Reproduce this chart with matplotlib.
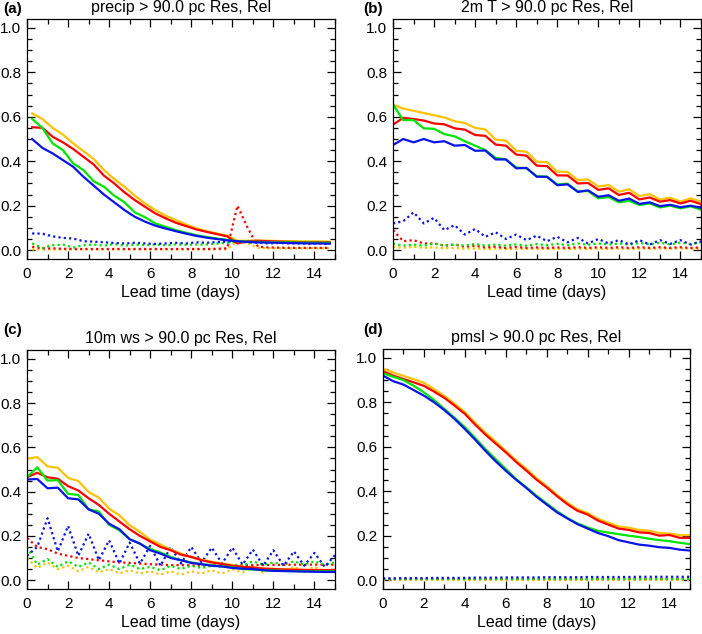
import numpy as np
import matplotlib
matplotlib.use('Agg')
import matplotlib.pyplot as plt
from matplotlib.ticker import MultipleLocator

plt.rcParams['font.family'] = ['Liberation Sans', 'DejaVu Sans']

# lead times (days)
x_precip = np.arange(0.25, 15.0, 0.5)
x_lead = np.arange(0.0, 15.01, 0.5)

# colours for the four models
c_yel = '#ffc200'
c_red = '#ff0000'
c_grn = '#00e400'
c_blu = '#0a14e8'

# (a) precip: resolution (solid) and reliability (dotted)
a_yel = [0.615, 0.59, 0.55, 0.52, 0.48, 0.445, 0.41, 0.36, 0.32, 0.285, 0.245, 0.21, 0.18, 0.155, 0.135,
         0.115, 0.098, 0.085, 0.075, 0.065, 0.042, 0.042, 0.043, 0.042, 0.041, 0.04, 0.04, 0.039, 0.039, 0.038]
a_red = [0.553, 0.55, 0.51, 0.485, 0.455, 0.42, 0.385, 0.335, 0.3, 0.26, 0.225, 0.195, 0.165, 0.143, 0.123,
         0.108, 0.093, 0.082, 0.072, 0.062, 0.03, 0.04, 0.042, 0.04, 0.038, 0.037, 0.036, 0.036, 0.035, 0.035]
a_grn = [0.59, 0.55, 0.48, 0.45, 0.39, 0.36, 0.31, 0.285, 0.245, 0.215, 0.17, 0.148, 0.12, 0.105, 0.09,
         0.078, 0.067, 0.059, 0.052, 0.046, 0.04, 0.038, 0.037, 0.036, 0.035, 0.035, 0.034, 0.034, 0.033, 0.033]
a_blu = [0.50, 0.46, 0.435, 0.405, 0.375, 0.33, 0.29, 0.25, 0.215, 0.18, 0.15, 0.128, 0.11, 0.097, 0.085,
         0.074, 0.064, 0.056, 0.05, 0.044, 0.04, 0.037, 0.035, 0.034, 0.033, 0.032, 0.031, 0.03, 0.03, 0.029]
a_yel_rel = [0.003, 0.003, 0.003, 0.003, 0.003, 0.003, 0.003, 0.003, 0.003, 0.003, 0.003, 0.003, 0.003, 0.003, 0.003,
             0.003, 0.003, 0.003, 0.004, 0.004, 0.04, 0.03, 0.01, 0.008, 0.008, 0.008, 0.008, 0.008, 0.008, 0.008]
a_red_rel = [0.015, 0.008, 0.008, 0.006, 0.005, 0.005, 0.005, 0.005, 0.005, 0.005, 0.005, 0.005, 0.005, 0.005, 0.005,
             0.005, 0.005, 0.005, 0.006, 0.008, 0.2, 0.1, 0.015, 0.012, 0.011, 0.01, 0.01, 0.01, 0.01, 0.01]
a_grn_rel = [0.03, 0.01, 0.022, 0.025, 0.012, 0.022, 0.025, 0.02, 0.027, 0.02, 0.025, 0.022, 0.025, 0.022, 0.026,
             0.024, 0.025, 0.025, 0.03, 0.032, 0.04, 0.036, 0.035, 0.036, 0.036, 0.035, 0.035, 0.034, 0.034, 0.033]
a_blu_rel = [0.075, 0.074, 0.062, 0.055, 0.052, 0.04, 0.038, 0.035, 0.032, 0.03, 0.033, 0.03, 0.028, 0.03, 0.033,
             0.03, 0.035, 0.033, 0.036, 0.038, 0.04, 0.035, 0.033, 0.03, 0.032, 0.03, 0.03, 0.029, 0.03, 0.028]

# (b) 2m T
b_yel = [0.655, 0.637, 0.627, 0.617, 0.607, 0.597, 0.58, 0.572, 0.55, 0.543, 0.497, 0.493, 0.447, 0.443, 0.398, 0.396,
         0.353, 0.352, 0.315, 0.318, 0.286, 0.293, 0.263, 0.274, 0.243, 0.252, 0.228, 0.236, 0.218, 0.233, 0.218]
b_red = [0.565, 0.595, 0.59, 0.583, 0.57, 0.566, 0.548, 0.542, 0.518, 0.514, 0.475, 0.47, 0.43, 0.425, 0.38, 0.378,
         0.336, 0.336, 0.3, 0.302, 0.271, 0.278, 0.248, 0.258, 0.228, 0.237, 0.218, 0.225, 0.21, 0.222, 0.207]
b_grn = [0.655, 0.585, 0.585, 0.548, 0.546, 0.522, 0.512, 0.49, 0.47, 0.45, 0.415, 0.408, 0.372, 0.368, 0.333, 0.33,
         0.296, 0.299, 0.264, 0.266, 0.233, 0.239, 0.215, 0.222, 0.203, 0.21, 0.192, 0.2, 0.188, 0.197, 0.182]
b_blu = [0.473, 0.5, 0.485, 0.5, 0.485, 0.49, 0.47, 0.473, 0.447, 0.448, 0.408, 0.408, 0.368, 0.37, 0.33, 0.33,
         0.292, 0.296, 0.262, 0.269, 0.24, 0.247, 0.222, 0.232, 0.208, 0.215, 0.198, 0.204, 0.193, 0.2, 0.19]
b_yel_rel = [0.015, 0.01, 0.015, 0.01, 0.012, 0.008, 0.01, 0.006, 0.008, 0.005, 0.007, 0.005, 0.006, 0.005, 0.006, 0.005,
             0.006, 0.005, 0.007, 0.005, 0.007, 0.005, 0.007, 0.005, 0.007, 0.006, 0.008, 0.006, 0.008, 0.006, 0.008]
b_red_rel = [0.09, 0.04, 0.045, 0.03, 0.03, 0.02, 0.025, 0.015, 0.02, 0.012, 0.015, 0.01, 0.014, 0.01, 0.012, 0.01,
             0.012, 0.01, 0.013, 0.01, 0.013, 0.01, 0.013, 0.01, 0.013, 0.01, 0.013, 0.01, 0.013, 0.01, 0.012]
b_grn_rel = [0.03, 0.02, 0.025, 0.02, 0.03, 0.02, 0.025, 0.02, 0.028, 0.02, 0.025, 0.02, 0.026, 0.02, 0.027, 0.022,
             0.028, 0.022, 0.03, 0.024, 0.03, 0.025, 0.03, 0.025, 0.032, 0.026, 0.033, 0.026, 0.034, 0.028, 0.035]
b_blu_rel = [0.12, 0.13, 0.17, 0.12, 0.145, 0.09, 0.112, 0.07, 0.095, 0.06, 0.08, 0.05, 0.07, 0.045, 0.065, 0.04,
             0.06, 0.035, 0.055, 0.03, 0.05, 0.03, 0.045, 0.025, 0.045, 0.025, 0.045, 0.028, 0.045, 0.025, 0.04]

# (c) 10m wind speed
c_yel_res = [0.549, 0.556, 0.514, 0.508, 0.462, 0.448, 0.398, 0.373, 0.323, 0.293, 0.248, 0.218, 0.183, 0.161, 0.138, 0.12,
             0.105, 0.093, 0.083, 0.075, 0.068, 0.06, 0.057, 0.053, 0.05, 0.049, 0.048, 0.047, 0.047, 0.046, 0.046]
c_red_res = [0.465, 0.485, 0.465, 0.458, 0.425, 0.405, 0.37, 0.34, 0.3, 0.265, 0.23, 0.2, 0.175, 0.15, 0.135, 0.115,
             0.105, 0.09, 0.08, 0.073, 0.065, 0.06, 0.057, 0.052, 0.05, 0.048, 0.047, 0.046, 0.045, 0.045, 0.045]
c_grn_res = [0.465, 0.51, 0.45, 0.452, 0.39, 0.385, 0.32, 0.31, 0.25, 0.225, 0.185, 0.165, 0.14, 0.125, 0.105, 0.09,
             0.08, 0.072, 0.068, 0.062, 0.058, 0.05, 0.048, 0.045, 0.043, 0.042, 0.041, 0.04, 0.04, 0.04, 0.04]
c_blu_res = [0.455, 0.457, 0.415, 0.418, 0.37, 0.365, 0.32, 0.3, 0.255, 0.23, 0.185, 0.165, 0.135, 0.12, 0.1, 0.09,
             0.078, 0.072, 0.065, 0.062, 0.055, 0.052, 0.05, 0.045, 0.042, 0.041, 0.04, 0.039, 0.038, 0.037, 0.037]
c_yel_rel = [0.1, 0.055, 0.08, 0.05, 0.065, 0.04, 0.06, 0.035, 0.05, 0.03, 0.045, 0.03, 0.04, 0.025, 0.04, 0.025,
             0.04, 0.03, 0.045, 0.03, 0.05, 0.035, 0.06, 0.035, 0.055, 0.04, 0.06, 0.04, 0.06, 0.04, 0.05]
c_red_rel = [0.19, 0.15, 0.14, 0.12, 0.11, 0.1, 0.095, 0.09, 0.085, 0.08, 0.078, 0.075, 0.072, 0.07, 0.068, 0.068,
             0.067, 0.066, 0.066, 0.066, 0.067, 0.067, 0.068, 0.068, 0.069, 0.069, 0.07, 0.07, 0.07, 0.07, 0.07]
c_grn_rel = [0.15, 0.07, 0.095, 0.06, 0.085, 0.06, 0.08, 0.05, 0.07, 0.05, 0.07, 0.05, 0.06, 0.045, 0.065, 0.05,
             0.065, 0.055, 0.065, 0.06, 0.07, 0.065, 0.085, 0.07, 0.08, 0.07, 0.085, 0.07, 0.085, 0.07, 0.08]
c_blu_rel = [0.11, 0.15, 0.28, 0.13, 0.245, 0.11, 0.21, 0.09, 0.18, 0.075, 0.17, 0.075, 0.155, 0.065, 0.15, 0.075,
             0.15, 0.08, 0.147, 0.075, 0.147, 0.07, 0.138, 0.065, 0.135, 0.065, 0.13, 0.065, 0.123, 0.06, 0.113]

# (d) pmsl
d_yel = [0.951, 0.934, 0.919, 0.904, 0.888, 0.859, 0.829, 0.794, 0.756, 0.709, 0.664, 0.624, 0.582, 0.539, 0.501, 0.459,
         0.424, 0.384, 0.349, 0.319, 0.302, 0.276, 0.259, 0.242, 0.236, 0.226, 0.222, 0.212, 0.21, 0.202, 0.202]
d_red = [0.94, 0.92, 0.905, 0.89, 0.874, 0.848, 0.82, 0.785, 0.748, 0.7, 0.655, 0.615, 0.575, 0.532, 0.493, 0.452,
         0.417, 0.378, 0.342, 0.312, 0.295, 0.268, 0.25, 0.232, 0.226, 0.215, 0.212, 0.2, 0.203, 0.19, 0.19]
d_grn = [0.93, 0.915, 0.9, 0.875, 0.845, 0.81, 0.77, 0.73, 0.688, 0.64, 0.59, 0.545, 0.5, 0.455, 0.418, 0.38,
         0.345, 0.31, 0.28, 0.255, 0.237, 0.222, 0.214, 0.207, 0.2, 0.194, 0.186, 0.18, 0.175, 0.168, 0.162]
d_blu = [0.92, 0.895, 0.88, 0.855, 0.83, 0.8, 0.765, 0.725, 0.68, 0.632, 0.582, 0.535, 0.492, 0.452, 0.415, 0.375,
         0.34, 0.305, 0.278, 0.252, 0.232, 0.212, 0.198, 0.18, 0.17, 0.16, 0.155, 0.148, 0.145, 0.137, 0.133]
d_yel_rel = [0.002] * 31
d_red_rel = [0.003] * 31
d_grn_rel = [0.005] * 31
d_blu_rel = [0.008, 0.008, 0.009, 0.009, 0.009, 0.01, 0.01, 0.01, 0.01, 0.011, 0.011, 0.011, 0.012, 0.012, 0.012, 0.012,
             0.013, 0.013, 0.013, 0.013, 0.014, 0.014, 0.014, 0.014, 0.014, 0.015, 0.015, 0.015, 0.015, 0.015, 0.015]

panels = [
    ('(a)', 'precip > 90.0 pc Res, Rel', x_precip,
     [a_yel, a_red, a_grn, a_blu], [a_yel_rel, a_red_rel, a_grn_rel, a_blu_rel]),
    ('(b)', '2m T > 90.0 pc Res, Rel', x_lead,
     [b_yel, b_red, b_grn, b_blu], [b_yel_rel, b_red_rel, b_grn_rel, b_blu_rel]),
    ('(c)', '10m ws > 90.0 pc Res, Rel', x_lead,
     [c_yel_res, c_red_res, c_grn_res, c_blu_res], [c_yel_rel, c_red_rel, c_grn_rel, c_blu_rel]),
    ('(d)', 'pmsl > 90.0 pc Res, Rel', x_lead,
     [d_yel, d_red, d_grn, d_blu], [d_yel_rel, d_red_rel, d_grn_rel, d_blu_rel]),
]
colours = [c_yel, c_red, c_grn, c_blu]

W, H = 702, 634
fig = plt.figure(figsize=(W / 100, H / 100), dpi=100)

# axes boxes in pixels: left, top, right, bottom
boxes = [(27, 19, 335, 259), (393, 19, 701, 259), (27, 350, 335, 589), (383, 349, 690, 589)]
tag_pos = [(3, 13), (363, 13), (3, 334), (363, 334)]

for (tag, title, x, res, rel), box, tp in zip(panels, boxes, tag_pos):
    l, t, r, b = box
    ax = fig.add_axes([l / W, 1 - b / H, (r - l) / W, (b - t) / H])
    for s, c in zip(rel, colours):
        ax.plot(x, s, color=c, lw=1.6, linestyle=(0, (1, 1.4)), solid_capstyle='butt')
    for s, c in zip(res, colours):
        ax.plot(x, s, color=c, lw=1.6)
    ax.set_xlim(0, 15)
    ax.set_ylim(-0.04, 1.04)
    ax.xaxis.set_major_locator(MultipleLocator(2))
    ax.xaxis.set_minor_locator(MultipleLocator(1))
    ax.yaxis.set_major_locator(MultipleLocator(0.2))
    ax.yaxis.set_minor_locator(MultipleLocator(0.05))
    ax.yaxis.set_major_formatter(matplotlib.ticker.FormatStrFormatter('%.1f'))
    ax.tick_params(which='both', direction='in', top=True, right=True, labelsize=11, width=0.9)
    ax.tick_params(which='major', length=6)
    ax.tick_params(which='minor', length=3.5)
    ax.tick_params(axis='x', pad=6)
    ax.tick_params(axis='y', pad=4)
    for sp in ax.spines.values():
        sp.set_linewidth(0.9)
    ax.set_title(title, fontsize=11.5, pad=5)
    ax.set_xlabel('Lead time (days)', fontsize=11.5, labelpad=3)
    fig.text(tp[0] / W, 1 - tp[1] / H, tag, fontsize=11, fontweight='bold', va='baseline', ha='left')

fig.savefig('out.png', dpi=100)
